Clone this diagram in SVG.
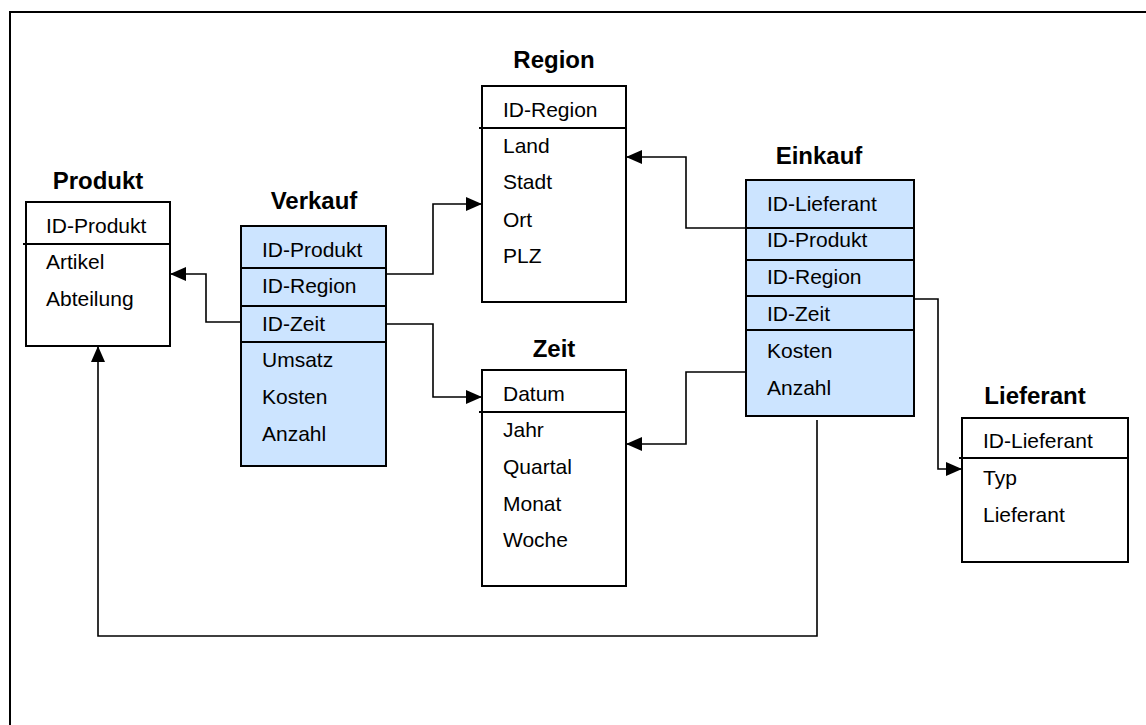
<svg xmlns="http://www.w3.org/2000/svg" width="1146" height="725" viewBox="0 0 1146 725">
  <style>
    .title { font-family: "Liberation Sans", Arial, sans-serif; font-size: 24px; font-weight: bold; fill: #000; text-anchor: middle; }
    .field { font-family: "Liberation Sans", Arial, sans-serif; font-size: 21px; fill: #000; }
    .dim { fill: #ffffff; stroke: #000; stroke-width: 2; }
    .fact { fill: #cce4ff; stroke: #000; stroke-width: 2; }
    .sep { stroke: #000; stroke-width: 2; fill: none; }
    .link { stroke: #000; stroke-width: 1.6; fill: none; marker-end: url(#arrow); }
    .plain { stroke: #000; stroke-width: 1.6; fill: none; }
  </style>
  <defs>
    <marker id="arrow" markerUnits="userSpaceOnUse" markerWidth="17" markerHeight="14" refX="16" refY="7" orient="auto">
      <path d="M0,0 L16,7 L0,14 Z" fill="#000"/>
    </marker>
  </defs>

  <rect width="1146" height="725" fill="#ffffff"/>
  <!-- page frame -->
  <path d="M10,725 V12 H1146" fill="none" stroke="#000" stroke-width="2"/>

  <!-- Produkt -->
  <g id="produkt">
    <text class="title" x="98" y="189">Produkt</text>
    <rect class="dim" x="26" y="202" width="144" height="144"/>
    <line class="sep" x1="23" y1="244" x2="170" y2="244"/>
    <text class="field" x="46" y="233">ID-Produkt</text>
    <text class="field" x="46" y="269">Artikel</text>
    <text class="field" x="46" y="306">Abteilung</text>
  </g>

  <!-- Verkauf -->
  <g id="verkauf">
    <text class="title" x="314" y="209">Verkauf</text>
    <rect class="fact" x="241" y="226" width="145" height="240"/>
    <line class="sep" x1="241" y1="268" x2="386" y2="268"/>
    <line class="sep" x1="241" y1="306" x2="386" y2="306"/>
    <line class="sep" x1="241" y1="342" x2="386" y2="342"/>
    <text class="field" x="262" y="257">ID-Produkt</text>
    <text class="field" x="262" y="293">ID-Region</text>
    <text class="field" x="262" y="331">ID-Zeit</text>
    <text class="field" x="262" y="367">Umsatz</text>
    <text class="field" x="262" y="404">Kosten</text>
    <text class="field" x="262" y="441">Anzahl</text>
  </g>

  <!-- Region -->
  <g id="region">
    <text class="title" x="554" y="68">Region</text>
    <rect class="dim" x="482" y="86" width="144" height="216"/>
    <line class="sep" x1="479" y1="128" x2="626" y2="128"/>
    <text class="field" x="503" y="117">ID-Region</text>
    <text class="field" x="503" y="153">Land</text>
    <text class="field" x="503" y="189">Stadt</text>
    <text class="field" x="503" y="227">Ort</text>
    <text class="field" x="503" y="263">PLZ</text>
  </g>

  <!-- Zeit -->
  <g id="zeit">
    <text class="title" x="554" y="357">Zeit</text>
    <rect class="dim" x="482" y="370" width="144" height="216"/>
    <line class="sep" x1="479" y1="412" x2="626" y2="412"/>
    <text class="field" x="503" y="401">Datum</text>
    <text class="field" x="503" y="437">Jahr</text>
    <text class="field" x="503" y="474">Quartal</text>
    <text class="field" x="503" y="511">Monat</text>
    <text class="field" x="503" y="547">Woche</text>
  </g>

  <!-- Einkauf -->
  <g id="einkauf">
    <text class="title" x="819" y="164">Einkauf</text>
    <rect class="fact" x="746" y="180" width="168" height="236"/>
    <line class="sep" x1="746" y1="228" x2="914" y2="228"/>
    <line class="sep" x1="746" y1="260" x2="914" y2="260"/>
    <line class="sep" x1="746" y1="296" x2="914" y2="296"/>
    <line class="sep" x1="746" y1="330" x2="914" y2="330"/>
    <text class="field" x="767" y="211">ID-Lieferant</text>
    <text class="field" x="767" y="247">ID-Produkt</text>
    <text class="field" x="767" y="284">ID-Region</text>
    <text class="field" x="767" y="321">ID-Zeit</text>
    <text class="field" x="767" y="358">Kosten</text>
    <text class="field" x="767" y="395">Anzahl</text>
  </g>

  <!-- Lieferant -->
  <g id="lieferant">
    <text class="title" x="1035" y="404">Lieferant</text>
    <rect class="dim" x="962" y="418" width="166" height="144"/>
    <line class="sep" x1="959" y1="458" x2="1128" y2="458"/>
    <text class="field" x="983" y="448">ID-Lieferant</text>
    <text class="field" x="983" y="485">Typ</text>
    <text class="field" x="983" y="522">Lieferant</text>
  </g>

  <!-- relationships -->
  <g id="connectors">
    <path class="link" d="M241,322 H206 V274 H170"/>
    <path class="link" d="M386,274 H433 V204 H482"/>
    <path class="link" d="M386,324 H433 V397 H482"/>
    <path class="link" d="M746,228 H686 V157 H626"/>
    <path class="link" d="M746,372 H686 V444 H626"/>
    <path class="link" d="M914,299 H938 V469 H962"/>
    <path class="link" d="M817,420 V636 H98 V346"/>
  </g>
</svg>
